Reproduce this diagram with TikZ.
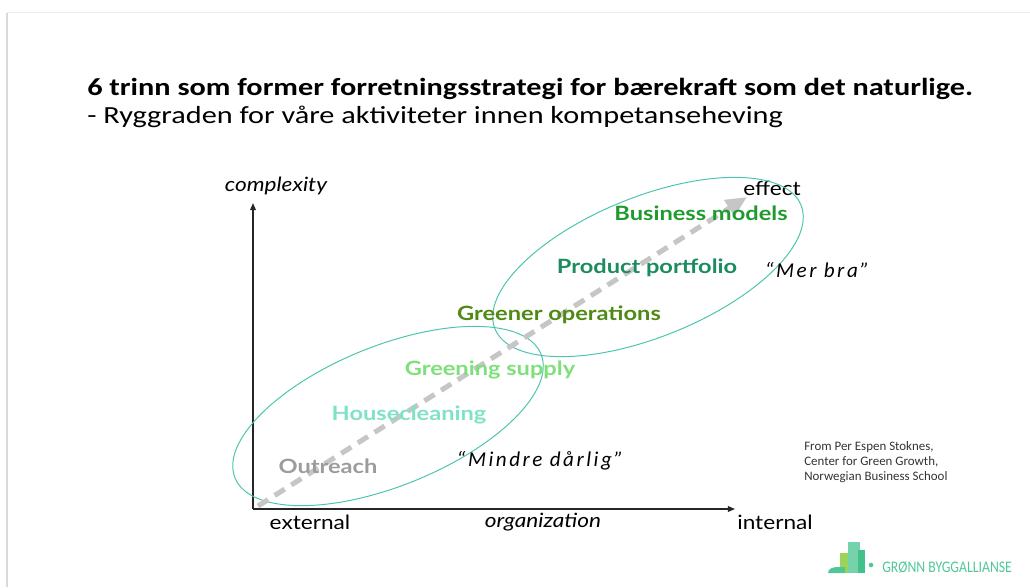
\documentclass[tikz,border=0pt]{standalone}
\usepackage{fontspec}
\setmainfont{Carlito}
\newfontfamily\slidefont[FakeStretch=1.23]{Carlito}
\newfontfamily\gillfont[FakeStretch=1.2]{Lato}
\newfontfamily\axisfont[FakeStretch=1.15]{Lato}
\usetikzlibrary{arrows.meta,shapes.geometric}
\definecolor{bizgreen}{HTML}{1F9A2E}
\definecolor{portgreen}{HTML}{1B8C5E}
\definecolor{opsgreen}{HTML}{4E8A14}
\definecolor{supgreen}{HTML}{7DE07A}
\definecolor{housemint}{HTML}{7FE2C6}
\definecolor{outgray}{HTML}{9C9C9C}
\definecolor{ringteal}{HTML}{4CC4AE}
\definecolor{pathgray}{HTML}{C6C6C6}
\definecolor{logoteal}{HTML}{52C796}
\definecolor{logolime}{HTML}{9AD45A}
\begin{document}
\begin{tikzpicture}[x=0.025cm, y=-0.025cm,
  stage/.style={font=\gillfont\bfseries\fontsize{14}{16}\selectfont, inner sep=0pt},
  axislabel/.style={font=\axisfont\fontsize{14}{16}\selectfont, inner sep=0pt},
  quote/.style={font=\itshape\fontsize{15}{17}\selectfont\addfontfeatures{LetterSpace=12}, inner sep=0pt},
  cluster/.style={draw=ringteal, line width=0.7pt, ellipse, inner sep=0pt, minimum width=8.25cm, minimum height=3.5cm, rotate=22}]
  \useasboundingbox (0,0) rectangle (1030,587);
  % slide frame
  \draw[black!8, line width=0.6pt] (7,12.5) -- (1030,12.5);
  \draw[black!15, line width=0.8pt] (7,12.5) -- (7,587);
  % heading
  \node[anchor=base west, inner sep=0pt, font=\slidefont\bfseries\fontsize{17.5}{20}\selectfont] (title) at (87,95) {6 trinn som former forretningsstrategi for bærekraft som det naturlige.};
  \node[anchor=base west, inner sep=0pt, font=\slidefont\fontsize{17.5}{20}\selectfont] (subtitle) at (87,123) {- Ryggraden for våre aktiviteter innen kompetanseheving};
  % axes
  \coordinate (origin) at (253,509);
  \coordinate (ytop) at (253,203);
  \coordinate (xend) at (735,509);
  \draw[line width=1pt, black!85, -{Triangle[length=5pt,width=4pt]}] (origin) -- (ytop);
  \draw[line width=1pt, black!85, -{Triangle[length=5pt,width=4pt]}] (origin) -- (xend);
  \node[axislabel, font=\axisfont\itshape\fontsize{14}{16}\selectfont] (complexity) at (276,186) {complexity};
  \node[axislabel] (effect) at (772,188) {effect};
  \node[axislabel] (external) at (310,522) {external};
  \node[axislabel, font=\axisfont\itshape\fontsize{14}{16}\selectfont] (organization) at (543,522) {organization};
  \node[axislabel] (internal) at (775,522) {internal};
  % groups
  \node[cluster] (lowgroup) at (388,416) {};
  \node[cluster] (highgroup) at (648,267) {};
  % path of the six steps
  \coordinate (pathstart) at (258,506);
  \coordinate (pathtip) at (747,197);
  \draw[pathgray, line width=3.6pt, dash pattern=on 8.5pt off 5.5pt, -{Triangle[length=15pt,width=13pt]}] (pathstart) -- (pathtip);
  % steps
  \node[stage, text=bizgreen] (bizmodels) at (701,213) {Business models};
  \node[stage, text=portgreen] (portfolio) at (647,268) {Product portfolio};
  \node[stage, text=opsgreen] (operations) at (559,315) {Greener operations};
  \node[stage, text=supgreen] (supply) at (490,370) {Greening supply};
  \node[stage, text=housemint] (housecl) at (409,415) {Housecleaning};
  \node[stage, text=outgray] (outreach) at (328,466) {Outreach};
  % quotes
  \node[quote] (worse) at (540,461) {“Mindre dårlig”};
  \node[quote] (better) at (817,270) {“Mer bra”};
  % source
  \node[anchor=north west, inner sep=0pt, align=left, text=black!80, font=\fontsize{9.2}{10.8}\selectfont] (source) at (804,441) {From Per Espen Stoknes,\\Center for Green Growth,\\Norwegian Business School};
  % logo
  \fill[logolime] (840,553) rectangle (850,573);
  \fill[logoteal!80] (848,542) rectangle (860,573);
  \fill[logoteal!110] (858,550) rectangle (865,573);
  \fill[logoteal] (871,565) circle (2.3);
  \fill[logoteal] (828,573) to[out=90,in=180] (838,567) -- (845,567) -- (845,573) -- cycle;
  \node[anchor=west, inner sep=0pt, text=logoteal, font=\fontsize{11.5}{12}\selectfont] (logotext) at (882,567) {\scalebox{0.85}[1]{GRØNN BYGGALLIANSE}};
\end{tikzpicture}
\end{document}
